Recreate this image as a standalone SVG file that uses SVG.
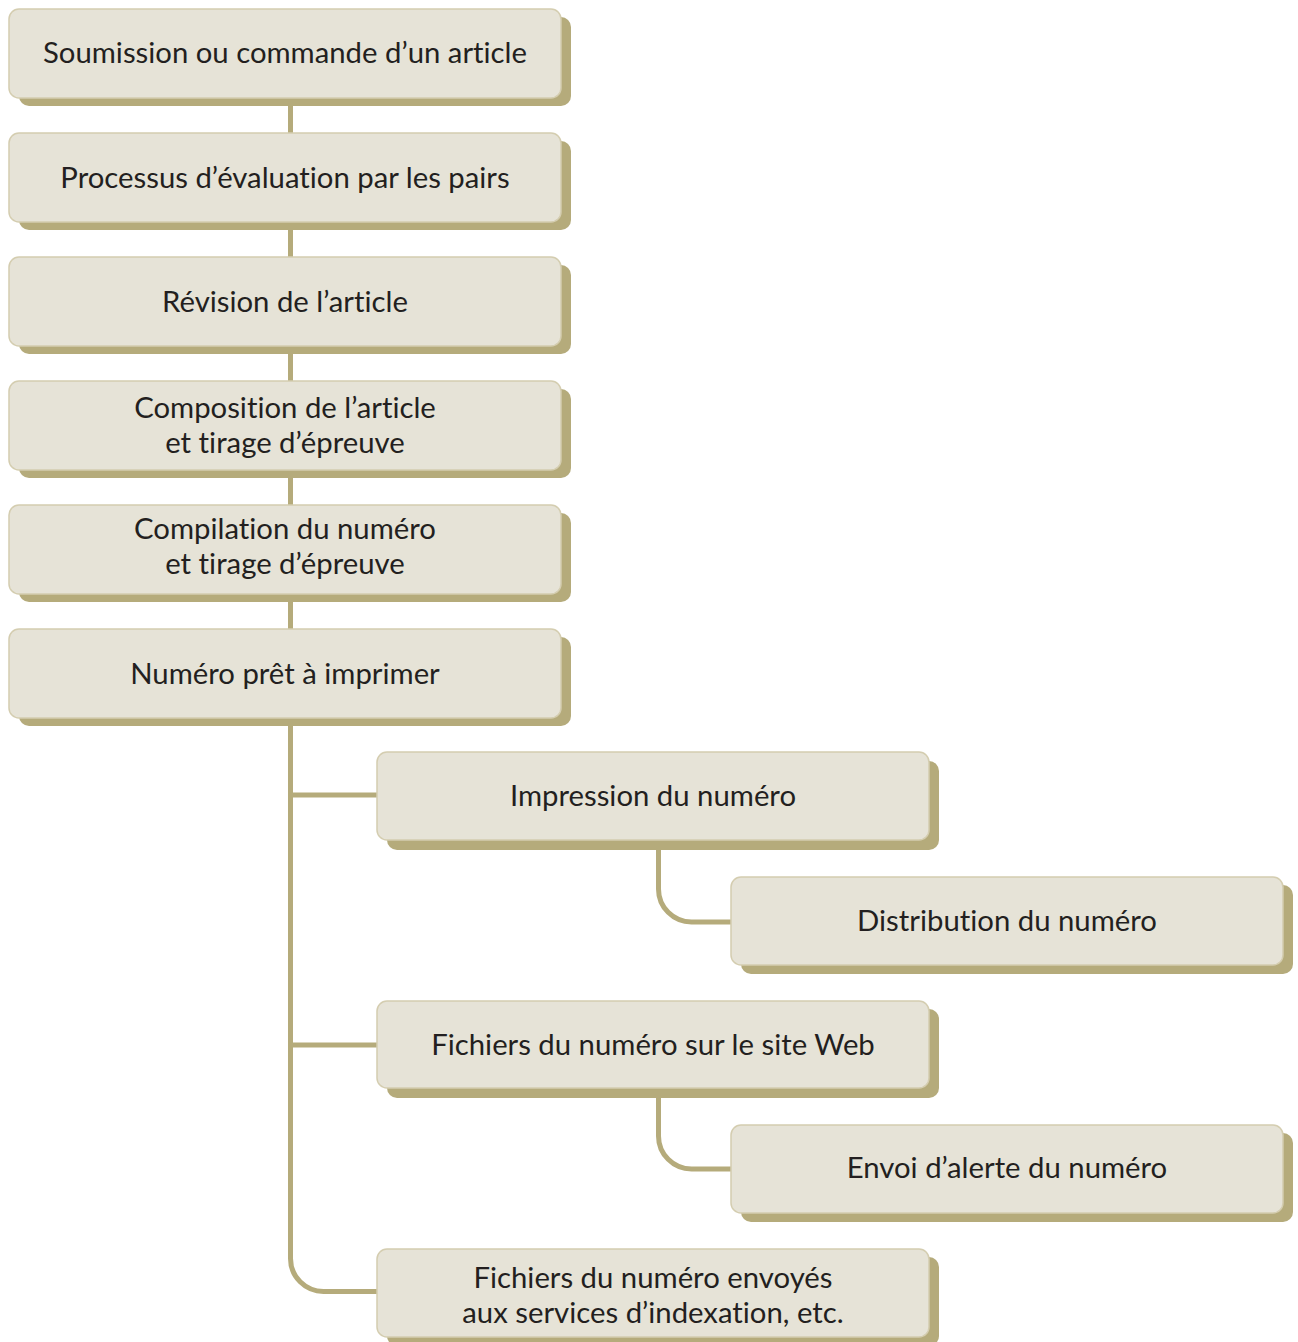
<svg xmlns="http://www.w3.org/2000/svg" width="1298" height="1342" viewBox="0 0 1298 1342">
<style>
.sh{fill:#b5ab7b}
.bx{fill:#e6e3d7;stroke:#d4cdb0;stroke-width:1.5}
.t{font-family:Lato,"Open Sans",sans-serif;font-size:29.3px;fill:#231f20;text-anchor:middle;font-variant-ligatures:none;font-feature-settings:"liga" 0,"dlig" 0}
.c{fill:none;stroke:#b5ab7b;stroke-width:5}
</style>
<rect width="1298" height="1342" fill="#ffffff"/>
<g id="connectors">
<path class="c" d="M290.5 98V133M290.5 222V257M290.5 346V381M290.5 470V505M290.5 594V629"/>
<path class="c" d="M290.5 718V1258.5A33 33 0 0 0 323.5 1291.5H377"/>
<path class="c" d="M290.5 795H377M290.5 1045H377"/>
<path class="c" d="M658.5 840V889A33 33 0 0 0 691.5 922H731"/>
<path class="c" d="M658.5 1088V1136A33 33 0 0 0 691.5 1169H731"/>
</g>
<g id="n1"><rect class="sh" x="19" y="17" width="552" height="89" rx="10"/><rect class="bx" x="9" y="9" width="552" height="89" rx="10"/><text class="t" x="285" y="63">Soumission ou commande d’un article</text></g>
<g id="n2"><rect class="sh" x="19" y="141" width="552" height="89" rx="10"/><rect class="bx" x="9" y="133" width="552" height="89" rx="10"/><text class="t" x="285" y="188">Processus d’évaluation par les pairs</text></g>
<g id="n3"><rect class="sh" x="19" y="265" width="552" height="89" rx="10"/><rect class="bx" x="9" y="257" width="552" height="89" rx="10"/><text class="t" x="285" y="312">Révision de l’article</text></g>
<g id="n4"><rect class="sh" x="19" y="389" width="552" height="89" rx="10"/><rect class="bx" x="9" y="381" width="552" height="89" rx="10"/><text class="t" x="285" y="418">Composition de l’article</text><text class="t" x="285" y="453">et tirage d’épreuve</text></g>
<g id="n5"><rect class="sh" x="19" y="513" width="552" height="89" rx="10"/><rect class="bx" x="9" y="505" width="552" height="89" rx="10"/><text class="t" x="285" y="539">Compilation du numéro</text><text class="t" x="285" y="574">et tirage d’épreuve</text></g>
<g id="n6"><rect class="sh" x="19" y="637" width="552" height="89" rx="10"/><rect class="bx" x="9" y="629" width="552" height="89" rx="10"/><text class="t" x="285" y="684">Numéro prêt à imprimer</text></g>
<g id="n7"><rect class="sh" x="387" y="761" width="552" height="89" rx="10"/><rect class="bx" x="377" y="752" width="552" height="88" rx="10"/><text class="t" x="653" y="806">Impression du numéro</text></g>
<g id="n8"><rect class="sh" x="741" y="885" width="552" height="89" rx="10"/><rect class="bx" x="731" y="877" width="552" height="88" rx="10"/><text class="t" x="1007" y="931">Distribution du numéro</text></g>
<g id="n9"><rect class="sh" x="387" y="1009" width="552" height="89" rx="10"/><rect class="bx" x="377" y="1001" width="552" height="87" rx="10"/><text class="t" x="653" y="1055">Fichiers du numéro sur le site Web</text></g>
<g id="n10"><rect class="sh" x="741" y="1133" width="552" height="89" rx="10"/><rect class="bx" x="731" y="1125" width="552" height="88" rx="10"/><text class="t" x="1007" y="1178">Envoi d’alerte du numéro</text></g>
<g id="n11"><rect class="sh" x="387" y="1257" width="552" height="89" rx="10"/><rect class="bx" x="377" y="1249" width="552" height="88" rx="10"/><text class="t" x="653" y="1288">Fichiers du numéro envoyés</text><text class="t" x="653" y="1323">aux services d’indexation, etc.</text></g>
</svg>
